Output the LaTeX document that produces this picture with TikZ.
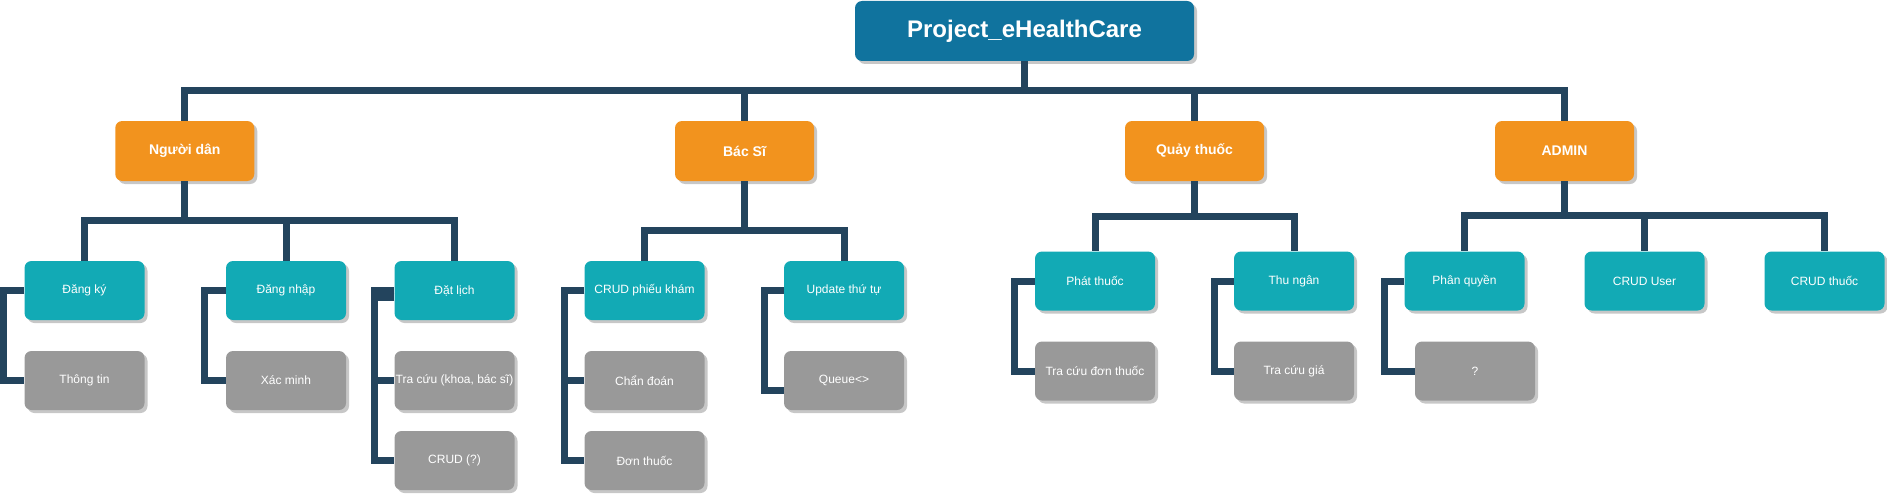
\documentclass[tikz,border=0pt]{standalone}
\usepackage{fontspec}
\setmainfont{Liberation Sans}
\usetikzlibrary{shadows}
\definecolor{rootc}{HTML}{10739E}
\definecolor{orangec}{HTML}{F2931E}
\definecolor{tealc}{HTML}{12AAB5}
\definecolor{greyc}{HTML}{999999}
\definecolor{linec}{HTML}{23445D}
\tikzset{
  box/.style={rectangle, rounded corners=7pt, inner sep=0pt, text=white, align=center,
    drop shadow={shadow xshift=3pt, shadow yshift=-3pt, fill=black!22, opacity=1}},
  rootbox/.style={box, fill=rootc, minimum width=339pt, minimum height=60pt, font=\fontsize{24}{28}\selectfont\bfseries},
  lvlone/.style={box, fill=orangec, minimum width=139pt, minimum height=60pt, font=\fontsize{14}{16}\selectfont\bfseries},
  lvltwo/.style={box, fill=tealc, minimum width=120pt, minimum height=59pt, font=\fontsize{12}{14}\selectfont},
  lvlthree/.style={box, fill=greyc, minimum width=120pt, minimum height=59pt, font=\fontsize{12}{14}\selectfont},
  conn/.style={draw=linec, line width=7pt, line join=miter},
}
\begin{document}
\begin{tikzpicture}[x=1pt, y=-1pt]
\useasboundingbox (0,0) rectangle (1887,495);
% root
\node[rootbox] (root) at (1024.5,31) {Project\_eHealthCare};
% level 1
\node[lvlone] (nd) at (184.75,151) {Người dân};
\node[lvlone] (bs) at (744.5,151) {Bác Sĩ};
\node[lvlone] (qt) at (1194.5,151) {Quảy thuốc};
\node[lvlone] (ad) at (1564.5,151) {ADMIN};
% level 2
\node[lvltwo] (dk) at (84.5,290.5) {Đăng ký};
\node[lvltwo] (dn) at (286,290.5) {Đăng nhập};
\node[lvltwo] (dl) at (454.5,290.5) {Đặt lịch};
\node[lvltwo] (pk) at (644.5,290.5) {CRUD phiếu khám};
\node[lvltwo] (ut) at (844,290.5) {Update thứ tự};
\node[lvltwo] (pt) at (1095,281) {Phát thuốc};
\node[lvltwo] (tn) at (1294,281) {Thu ngân};
\node[lvltwo] (pq) at (1464.5,281) {Phân quyền};
\node[lvltwo] (cu) at (1644.5,281) {CRUD User};
\node[lvltwo] (ct) at (1824.5,281) {CRUD thuốc};
% level 3
\node[lvlthree] (tt) at (84.5,380.5) {Thông tin};
\node[lvlthree] (xm) at (286,380.5) {Xác minh};
\node[lvlthree] (tc) at (454.5,380.5) {Tra cứu (khoa, bác sĩ)};
\node[lvlthree] (cq) at (454.5,460.5) {CRUD (?)};
\node[lvlthree] (cd) at (644.5,380.5) {Chẩn đoán};
\node[lvlthree] (dt) at (644.5,460.5) {Đơn thuốc};
\node[lvlthree] (qu) at (844,380.5) {Queue<>};
\node[lvlthree] (tdt) at (1095,371) {Tra cứu đơn thuốc};
\node[lvlthree] (tcg) at (1294,371) {Tra cứu giá};
\node[lvlthree] (qm) at (1475,371) {?};
% root connectors
\foreach \c in {nd,bs,qt,ad}
  \draw[conn] (root.south) -- ++(0,29.5) -| (\c.north);
% level 1 connectors
\foreach \c in {dk,dn,dl}
  \draw[conn] (nd.south) -- ++(0,39.5) -| (\c.north);
\foreach \c in {pk,ut}
  \draw[conn] (bs.south) -- ++(0,49.5) -| (\c.north);
\foreach \c in {pt,tn}
  \draw[conn] (qt.south) -- ++(0,35) -| (\c.north);
\foreach \c in {pq,cu,ct}
  \draw[conn] (ad.south) -- ++(0,34.5) -| (\c.north);
% level 2 side connectors
\draw[conn] (dk.west) -- ++(-20.5,0) |- (tt.west);
\draw[conn] (dn.west) -- ++(-21.5,0) |- (xm.west);
\draw[conn] (dl.west) -- ++(-19.5,0) |- (tc.west);
\draw[conn] ([yshift=-7pt]dl.west) -- ++(-19.5,0) |- (cq.west);
\draw[conn] (pk.west) -- ++(-20,0) |- (cd.west);
\draw[conn] (pk.west) -- ++(-20,0) |- (dt.west);
\draw[conn] (ut.west) -- ++(-19.5,0) |- ([yshift=-10pt]qu.west);
\draw[conn] (pt.west) -- ++(-20.5,0) |- (tdt.west);
\draw[conn] (tn.west) -- ++(-19.5,0) |- (tcg.west);
\draw[conn] (pq.west) -- ++(-20,0) |- (qm.west);
\end{tikzpicture}
\end{document}
